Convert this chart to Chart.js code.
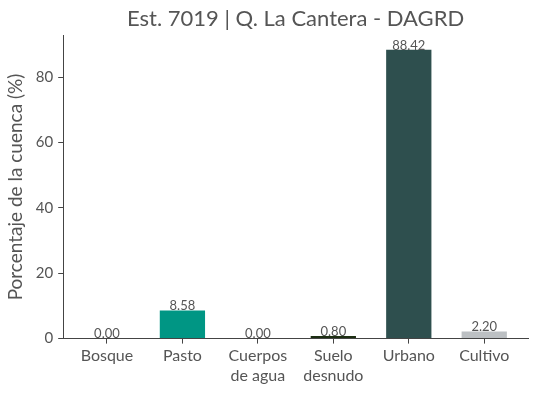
<!DOCTYPE html>
<html>
<head>
<meta charset="utf-8">
<script src="https://cdn.jsdelivr.net/npm/chart.js@4"></script>
<style>
  html, body { margin: 0; padding: 0; background: #fff; }
</style>
</head>
<body>
<canvas id="cobertura" width="538" height="393"></canvas>
<script>
var categorias = [['Bosque'], ['Pasto'], ['Cuerpos', 'de agua'], ['Suelo', 'desnudo'], ['Urbano'], ['Cultivo']];
var porcentajes = [0.00, 8.58, 0.00, 0.80, 88.42, 2.20];
var colores = ['#1e5631', '#009684', '#4a90c2', '#1c2e12', '#2e4f4e', '#bcc0c3'];
var ticksY = [0, 20, 40, 60, 80];

var etiquetas = {
    id: 'etiquetas',
    afterDatasetsDraw: function (chart) {
        var ctx = chart.ctx;
        var meta = chart.getDatasetMeta(0);
        ctx.save();
        ctx.font = '13px Lato';
        ctx.fillStyle = '#555';
        ctx.textAlign = 'center';
        ctx.textBaseline = 'bottom';
        meta.data.forEach(function (bar, i) {
            ctx.fillText(porcentajes[i].toFixed(2), bar.x, bar.y + 2);
        });
        ctx.restore();
    }
};

var ctx = document.getElementById('cobertura');
new Chart(ctx, {
    type: 'bar',
    data: {
        datasets: [{
            label: 'Cobertura',
            data: porcentajes.map(function (v, i) { return { x: i, y: v }; }),
            backgroundColor: colores,
            barPercentage: 0.6,
            categoryPercentage: 1
        }]
    },
    options: {
        responsive: false,
        animation: false,
        layout: { padding: { top: 6, right: 10, left: 4, bottom: 5 } },
        plugins: {
            legend: { display: false },
            tooltip: { enabled: false },
            title: {
                display: true,
                fullSize: false,
                text: 'Est. 7019 | Q. La Cantera - DAGRD',
                color: '#555',
                font: { family: 'Lato', size: 22, weight: 'normal' },
                padding: { top: 0, bottom: 3 }
            }
        },
        scales: {
            x: {
                type: 'linear',
                offset: false,
                min: -0.58,
                max: 5.58,
                afterBuildTicks: function (axis) {
                    axis.ticks = categorias.map(function (c, i) { return { value: i }; });
                },
                ticks: {
                    color: '#555',
                    font: { family: 'Lato', size: 16, lineHeight: 1.2 },
                    padding: 3,
                    maxRotation: 0,
                    autoSkip: false,
                    callback: function (v) { return categorias[v]; }
                },
                grid: { offset: false, drawOnChartArea: false, tickLength: 5, color: '#444' },
                border: { color: '#444' }
            },
            y: {
                min: 0,
                max: 92.84,
                afterBuildTicks: function (axis) {
                    axis.ticks = ticksY.map(function (v) { return { value: v }; });
                },
                ticks: {
                    color: '#555',
                    font: { family: 'Lato', size: 15 },
                    padding: 5
                },
                grid: { drawOnChartArea: false, tickLength: 5, color: '#444' },
                border: { color: '#444' },
                title: {
                    display: true,
                    text: 'Porcentaje de la cuenca (%)',
                    color: '#555',
                    font: { family: 'Lato', size: 19 },
                    padding: { top: 0, bottom: 4 }
                }
            }
        }
    },
    plugins: [etiquetas]
});
</script>
</body>
</html>
